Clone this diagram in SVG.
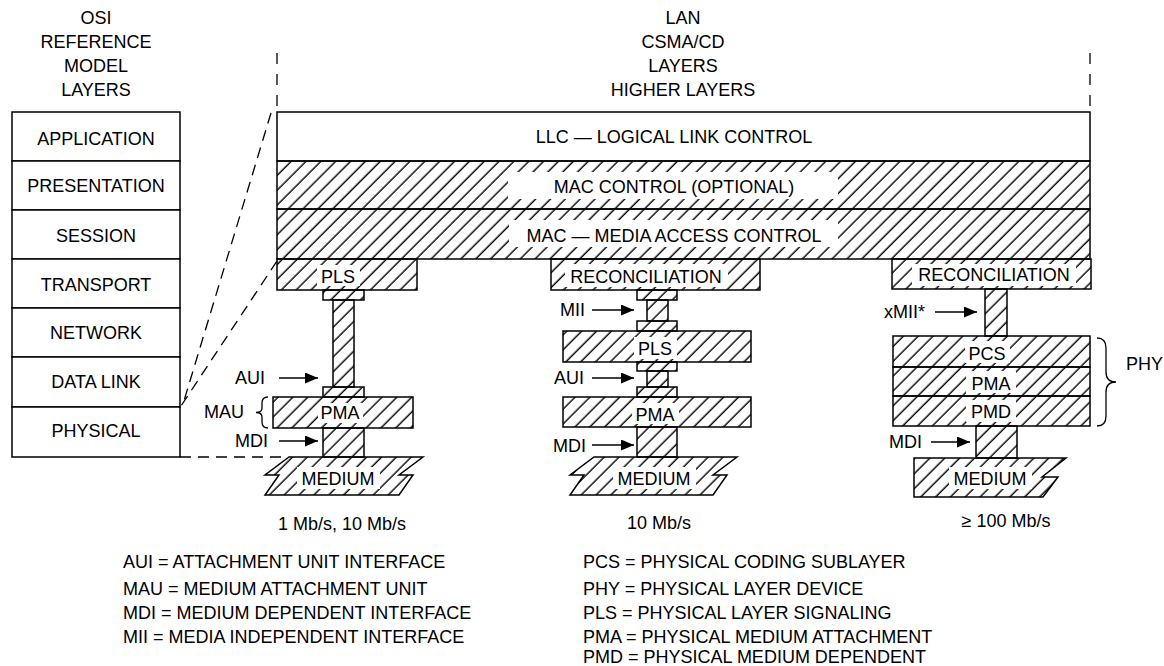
<svg xmlns="http://www.w3.org/2000/svg" width="1164" height="666" viewBox="0 0 1164 666">
<defs>
<pattern id="hatch" width="10.5" height="10.5" patternUnits="userSpaceOnUse" patternTransform="rotate(45)">
<line x1="5" y1="-1" x2="5" y2="12" stroke="#000" stroke-width="1.4"/>
</pattern>
<marker id="arr" viewBox="0 0 13 11" refX="13" refY="5.5" markerWidth="13" markerHeight="11" markerUnits="userSpaceOnUse" orient="auto">
<path d="M0,0 L13,5.5 L0,11 Z" fill="#000"/>
</marker>
</defs>
<style>
text{font-family:"Liberation Sans",Arial,Helvetica,sans-serif;font-size:18px;fill:#000}
.c{text-anchor:middle}
.e{text-anchor:end}
.box{fill:#fff;stroke:#000;stroke-width:1.5}
.h{fill:url(#hatch);stroke:#000;stroke-width:1.5}
.wb{fill:#fff;stroke:none}
.dash{fill:none;stroke:#000;stroke-width:1.3;stroke-dasharray:11 7}
.vd{fill:none;stroke:#000;stroke-width:1.3;stroke-dasharray:11 10}
.arw{stroke:#000;stroke-width:1.5;marker-end:url(#arr)}
.br{fill:none;stroke:#000;stroke-width:1.3}
</style>
<rect x="0" y="0" width="1164" height="666" fill="#fff"/>

<!-- Headers -->
<g id="osi-header">
<text class="c" x="96" y="24">OSI</text>
<text class="c" x="96" y="48">REFERENCE</text>
<text class="c" x="96" y="72">MODEL</text>
<text class="c" x="96" y="96">LAYERS</text>
</g>
<g id="lan-header">
<text class="c" x="683" y="24">LAN</text>
<text class="c" x="683" y="48">CSMA/CD</text>
<text class="c" x="683" y="72">LAYERS</text>
<text class="c" x="683" y="96">HIGHER LAYERS</text>
</g>

<!-- OSI stack -->
<g id="osi-application"><rect class="box" x="12" y="112" width="168" height="49"/><text class="c" x="96" y="145">APPLICATION</text></g>
<g id="osi-presentation"><rect class="box" x="12" y="161" width="168" height="49"/><text class="c" x="96" y="192">PRESENTATION</text></g>
<g id="osi-session"><rect class="box" x="12" y="210" width="168" height="49"/><text class="c" x="96" y="242">SESSION</text></g>
<g id="osi-transport"><rect class="box" x="12" y="259" width="168" height="49"/><text class="c" x="96" y="291">TRANSPORT</text></g>
<g id="osi-network"><rect class="box" x="12" y="308" width="168" height="49"/><text class="c" x="96" y="339">NETWORK</text></g>
<g id="osi-datalink"><rect class="box" x="12" y="357" width="168" height="50"/><text class="c" x="96" y="388">DATA LINK</text></g>
<g id="osi-physical"><rect class="box" x="12" y="407" width="168" height="50"/><text class="c" x="96" y="437">PHYSICAL</text></g>

<!-- LAN bars -->
<g id="llc"><rect class="box" x="277" y="112" width="813" height="49"/><text class="c" x="674" y="143">LLC — LOGICAL LINK CONTROL</text></g>
<g id="mac-control"><rect class="h" x="277" y="161" width="813" height="48"/><rect class="wb" x="508" y="172" width="330" height="27"/><text class="c" x="674" y="193">MAC CONTROL (OPTIONAL)</text></g>
<g id="mac"><rect class="h" x="277" y="209" width="813" height="50"/><rect class="wb" x="509" y="220" width="329" height="27"/><text class="c" x="674" y="242">MAC — MEDIA ACCESS CONTROL</text></g>

<!-- Left column: 1 Mb/s, 10 Mb/s -->
<g id="aui-1">
<rect class="h" x="333" y="300" width="21" height="87"/>
<rect class="h" x="323" y="290" width="41" height="10"/>
<rect class="h" x="323" y="387" width="41" height="10"/>
</g>
<g id="pls-1"><rect class="h" x="277" y="259" width="140" height="31"/><rect class="wb" x="317" y="265" width="43" height="21"/><text class="c" x="338" y="283">PLS</text></g>
<g id="pma-1"><rect class="h" x="273" y="397" width="140" height="31"/><rect class="wb" x="318" y="403" width="45" height="20"/><text class="c" x="340" y="419">PMA</text></g>
<g id="mdi-1"><rect class="h" x="323" y="428" width="41" height="29"/></g>
<g id="medium-1"><path class="h" d="M289,457 L423,457 L399,475 L413,475 L399,495 L265,495 L279,475 L265,475 Z"/><rect class="wb" x="297" y="467" width="83" height="22"/><text class="c" x="338" y="485">MEDIUM</text></g>

<!-- Middle column: 10 Mb/s -->
<g id="mii-2">
<rect class="h" x="647" y="300" width="21" height="21"/>
<rect class="h" x="637" y="290" width="40" height="10"/>
<rect class="h" x="637" y="321" width="40" height="10"/>
</g>
<g id="aui-2">
<rect class="h" x="647" y="371" width="21" height="16"/>
<rect class="h" x="637" y="362" width="40" height="9"/>
<rect class="h" x="637" y="387" width="40" height="10"/>
</g>
<g id="reconciliation-2"><rect class="h" x="551" y="259" width="209" height="31"/><rect class="wb" x="565" y="264" width="163" height="23"/><text class="c" x="646" y="283">RECONCILIATION</text></g>
<g id="pls-2"><rect class="h" x="563" y="331" width="188" height="31"/><rect class="wb" x="634" y="337" width="43" height="22"/><text class="c" x="655" y="355">PLS</text></g>
<g id="pma-2"><rect class="h" x="563" y="397" width="188" height="30"/><rect class="wb" x="632" y="403" width="47" height="21"/><text class="c" x="655" y="421">PMA</text></g>
<g id="mdi-2"><rect class="h" x="637" y="427" width="40" height="30"/></g>
<g id="medium-2"><path class="h" d="M594,457 L737,457 L713,475 L727,475 L713,495 L570,495 L584,475 L570,475 Z"/><rect class="wb" x="613" y="467" width="83" height="22"/><text class="c" x="654" y="485">MEDIUM</text></g>

<!-- Right column: >= 100 Mb/s -->
<g id="xmii-3"><rect class="h" x="985" y="289" width="22" height="47"/></g>
<g id="reconciliation-3"><rect class="h" x="892" y="259" width="199" height="30"/><rect class="wb" x="912" y="264" width="164" height="22"/><text class="c" x="994" y="281">RECONCILIATION</text></g>
<g id="pcs-3"><rect class="h" x="893" y="336" width="197" height="31"/><rect class="wb" x="965" y="341" width="45" height="22"/><text class="c" x="987" y="360">PCS</text></g>
<g id="pma-3"><rect class="h" x="893" y="367" width="197" height="29"/><rect class="wb" x="966" y="371" width="50" height="22"/><text class="c" x="991" y="390">PMA</text></g>
<g id="pmd-3"><rect class="h" x="893" y="396" width="197" height="30"/><rect class="wb" x="966" y="400" width="50" height="22"/><text class="c" x="991" y="418">PMD</text></g>
<g id="mdi-3"><rect class="h" x="976" y="426" width="41" height="32"/></g>
<g id="medium-3"><path class="h" d="M914,458 L1066,458 L1042,477 L1058,477 L1043,497 L914,497 Z"/><rect class="wb" x="949" y="467" width="83" height="22"/><text class="c" x="990" y="485">MEDIUM</text></g>

<!-- Connectors -->
<g id="connectors">
<path class="vd" d="M277,53 L277,112"/>
<path class="vd" d="M1090,53 L1090,112"/>
<path class="dash" d="M271,113 L183,404"/>
<path class="dash" d="M277,261 L181,406"/>
<path class="dash" d="M180,457 L281,457"/>
<line class="arw" x1="279" y1="378" x2="318" y2="378"/>
<line class="arw" x1="279" y1="441" x2="318" y2="441"/>
<line class="arw" x1="592" y1="310" x2="634" y2="310"/>
<line class="arw" x1="592" y1="378" x2="634" y2="378"/>
<line class="arw" x1="592" y1="445" x2="634" y2="445"/>
<line class="arw" x1="935" y1="312" x2="977" y2="312"/>
<line class="arw" x1="931" y1="442" x2="970" y2="442"/>
</g>

<!-- Interface labels -->
<g id="labels-left">
<text class="e" x="265" y="384">AUI</text>
<text class="e" x="244" y="418">MAU</text>
<path class="br" d="M268,397 Q262,397 262,403 L262,408 Q262,412.5 256,412.5 Q262,412.5 262,417 L262,422 Q262,428 268,428"/>
<text class="e" x="268" y="447">MDI</text>
</g>
<g id="labels-mid">
<text class="e" x="585" y="316">MII</text>
<text class="e" x="584" y="384">AUI</text>
<text class="e" x="586" y="452">MDI</text>
</g>
<g id="labels-right">
<text class="e" x="925" y="318">xMII*</text>
<text class="e" x="922" y="448">MDI</text>
<path class="br" d="M1097,338 Q1106,338 1106,348 L1106,372 Q1106,382 1116,382 Q1106,382 1106,392 L1106,416 Q1106,426 1097,426"/>
<text x="1126" y="370">PHY</text>
</g>

<!-- Speeds -->
<g id="speeds">
<text class="c" x="342" y="530">1 Mb/s, 10 Mb/s</text>
<text class="c" x="659" y="529">10 Mb/s</text>
<text class="c" x="1006" y="527">≥ 100 Mb/s</text>
</g>

<!-- Legend -->
<g id="legend-left">
<text x="123" y="568">AUI = ATTACHMENT UNIT INTERFACE</text>
<text x="123" y="595">MAU = MEDIUM ATTACHMENT UNIT</text>
<text x="123" y="619">MDI = MEDIUM DEPENDENT INTERFACE</text>
<text x="123" y="643">MII = MEDIA INDEPENDENT INTERFACE</text>
</g>
<g id="legend-right">
<text x="583" y="568">PCS = PHYSICAL CODING SUBLAYER</text>
<text x="583" y="595">PHY = PHYSICAL LAYER DEVICE</text>
<text x="583" y="619">PLS = PHYSICAL LAYER SIGNALING</text>
<text x="583" y="643">PMA = PHYSICAL MEDIUM ATTACHMENT</text>
<text x="583" y="663">PMD = PHYSICAL MEDIUM DEPENDENT</text>
</g>
</svg>
